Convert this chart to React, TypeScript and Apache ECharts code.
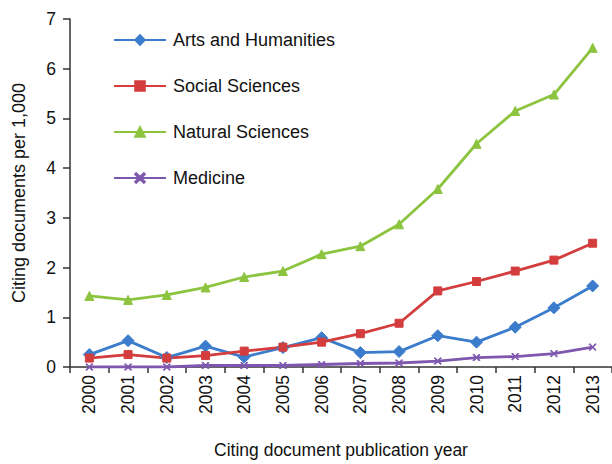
import React, { useEffect, useRef } from "react";
import * as echarts from "echarts";

const years = ["2000", "2001", "2002", "2003", "2004", "2005", "2006", "2007", "2008", "2009", "2010", "2011", "2012", "2013"];
const arts = [0.25, 0.53, 0.19, 0.42, 0.2, 0.39, 0.59, 0.29, 0.31, 0.63, 0.5, 0.8, 1.19, 1.63];
const social = [0.18, 0.25, 0.18, 0.23, 0.32, 0.4, 0.5, 0.67, 0.88, 1.53, 1.72, 1.93, 2.15, 2.49];
const natural = [1.43, 1.35, 1.45, 1.6, 1.81, 1.93, 2.27, 2.43, 2.87, 3.58, 4.49, 5.15, 5.48, 6.42];
const medicine = [0.0, 0.0, 0.0, 0.03, 0.03, 0.03, 0.05, 0.07, 0.08, 0.12, 0.19, 0.21, 0.27, 0.4];

const FONT = "'Liberation Sans', Arial, Helvetica, sans-serif";
const XMARK = "path://M1,0L5,4L9,0L10,1L6,5L10,9L9,10L5,6L1,10L0,9L4,5L0,1Z";

export default function App() {
  const ref = useRef<HTMLDivElement>(null);
  useEffect(() => {
    if (!ref.current) return;
    const chart = echarts.init(ref.current, null, { renderer: "svg" });
    const mk = (name: string, data: number[], color: string, symbol: string, size: number) => ({
      name,
      type: "line",
      data,
      symbol,
      symbolSize: size,
      showSymbol: true,
      lineStyle: { color, width: 2.8 },
      itemStyle: { color, borderColor: color, borderWidth: 1 },
      z: 2,
    });
    chart.setOption({
      animation: false,
      textStyle: { fontFamily: FONT },
      grid: { left: 70, right: -5, top: 19, bottom: 94, containLabel: false },
      legend: {
        orient: "vertical",
        left: 108,
        top: 26,
        itemWidth: 52,
        itemHeight: 12,
        itemGap: 28,
        textStyle: { fontSize: 18, color: "#111", fontFamily: FONT, padding: [0, 0, 0, 2] },
        data: ["Arts and Humanities", "Social Sciences", "Natural Sciences", "Medicine"],
      },
      xAxis: {
        type: "category",
        data: years,
        boundaryGap: true,
        name: "Citing document publication year",
        nameLocation: "middle",
        nameGap: 74,
        nameTextStyle: { fontSize: 17.5, color: "#111", fontFamily: FONT },
        axisLine: { lineStyle: { color: "#333", width: 1.5 } },
        axisTick: { show: true, length: 6, lineStyle: { color: "#333", width: 1.5 } },
        axisLabel: { rotate: 90, fontSize: 17.5, color: "#111", margin: 8, fontFamily: FONT },
        splitLine: { show: false },
      },
      yAxis: {
        type: "value",
        min: 0,
        max: 7,
        interval: 1,
        name: "Citing documents per 1,000",
        nameLocation: "middle",
        nameGap: 42,
        nameTextStyle: { fontSize: 18, color: "#111", fontFamily: FONT },
        axisLine: { show: true, lineStyle: { color: "#333", width: 1.5 } },
        axisTick: { show: true, length: 7, lineStyle: { color: "#333", width: 1.5 } },
        axisLabel: { fontSize: 17.5, color: "#111", margin: 14, fontFamily: FONT },
        splitLine: { show: false },
      },
      series: [
        mk("Arts and Humanities", arts, "#3b7dcc", "diamond", 12),
        mk("Social Sciences", social, "#d43d3d", "rect", 8),
        mk("Natural Sciences", natural, "#8cc43f", "triangle", 9),
        mk("Medicine", medicine, "#7e58ae", XMARK, 7),
      ],
    });
    return () => chart.dispose();
  }, []);
  return (
    <div
      ref={ref}
      style={{ position: "absolute", left: 0, top: 0, width: 612, height: 464, background: "#fff" }}
    />
  );
}
